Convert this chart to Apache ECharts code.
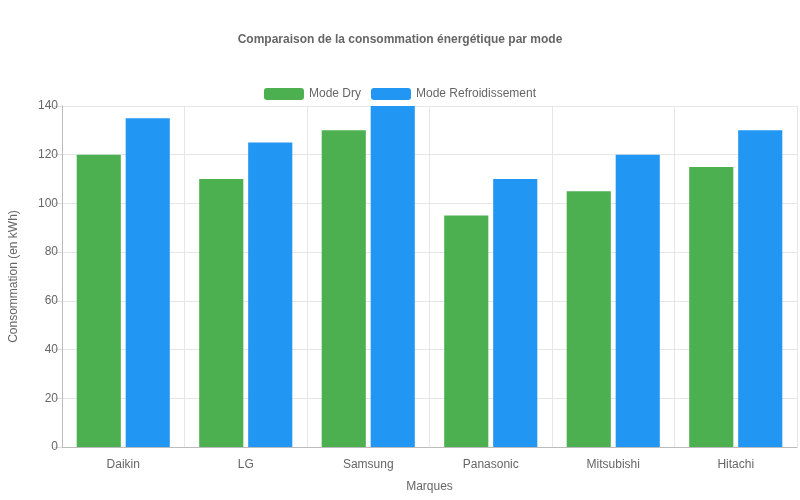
<!DOCTYPE html>
<html><head><meta charset="utf-8">
<script src="https://cdn.jsdelivr.net/npm/echarts@6/dist/echarts.min.js"></script>
<style>html,body{margin:0;padding:0;background:#fff}#c{width:800px;height:500px}</style>
</head><body><div id="c"></div>
<script>
const categories = ["Daikin","LG","Samsung","Panasonic","Mitsubishi","Hitachi"];
const dryValues = [120,110,130,95,105,115];
const coolValues = [135,125,140,110,120,130];
const yTicks = [0,20,40,60,80,100,120,140];
const chart = echarts.init(document.getElementById('c'));
const f = 'Liberation Sans, Arial, sans-serif';
chart.setOption({
  animation:false,
  title:{text:'Comparaison de la consommation énergétique par mode',left:'center',top:29,
    textStyle:{fontFamily:f,fontSize:12,fontWeight:'bold',color:'#666'}},
  legend:{top:83,itemWidth:40,itemHeight:12,itemGap:10,
    textStyle:{fontFamily:f,fontSize:12,color:'#666'},data:['Mode Dry','Mode Refroidissement']},
  grid:{left:59,right:3,top:106,bottom:53,containLabel:false},
  xAxis:{type:'category',data:categories,name:'Marques',nameLocation:'middle',nameGap:34,
    nameTextStyle:{fontFamily:f,fontSize:12,color:'#666'},
    axisLine:{lineStyle:{color:'#bbb'}},axisTick:{length:8,lineStyle:{color:'#ddd'}},
    axisLabel:{fontFamily:f,fontSize:12,color:'#666',margin:12},
    splitLine:{show:true,lineStyle:{color:'#e6e6e6'}}},
  yAxis:{type:'value',min:0,max:140,interval:20,name:'Consommation (en kWh)',nameLocation:'middle',nameGap:42,
    nameTextStyle:{fontFamily:f,fontSize:12,color:'#666'},
    axisLine:{show:true,lineStyle:{color:'#bbb'}},axisTick:{show:true,length:8,lineStyle:{color:'#ddd'}},
    axisLabel:{fontFamily:f,fontSize:12,color:'#666',margin:4},
    splitLine:{lineStyle:{color:'#e6e6e6'}}},
  series:[
    {name:'Mode Dry',type:'bar',data:dryValues,itemStyle:{color:'#4CAF50'},barGap:'11%',barCategoryGap:'24%'},
    {name:'Mode Refroidissement',type:'bar',data:coolValues,itemStyle:{color:'#2196F3'}}
  ]
});
</script></body></html>
